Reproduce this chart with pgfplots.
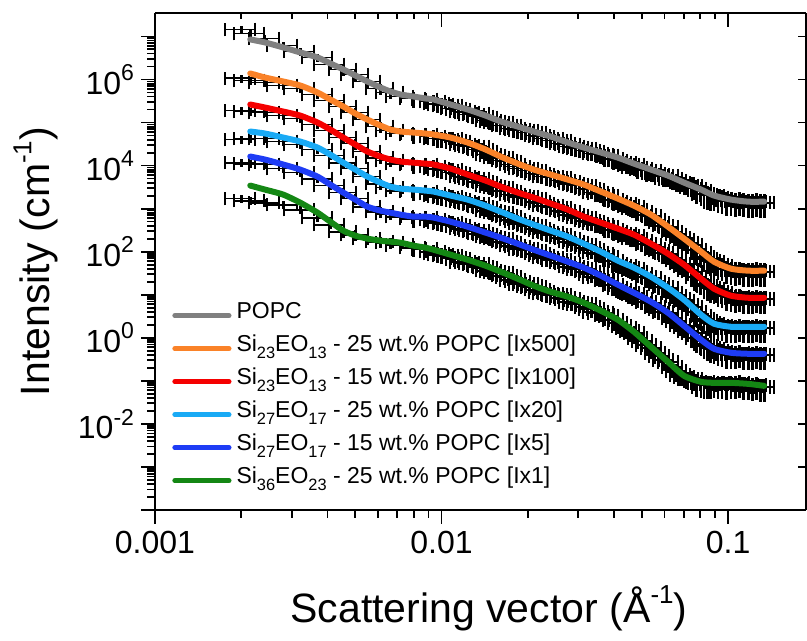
\documentclass[border=0pt]{standalone}
\usepackage{fontspec}
\setmainfont{Liberation Sans}
\usepackage{pgfplots}
\usepackage{pgfplotstable}
\pgfplotsset{compat=1.18}
\newcommand\sups[1]{\raisebox{0.42em}{\fontsize{11.5}{11.5}\selectfont #1}}
\newcommand\supl[1]{\raisebox{0.45em}{\fontsize{13}{13}\selectfont #1}}
\newcommand\subs[1]{\raisebox{-0.3em}{\fontsize{8.2}{8.2}\selectfont #1}}
\definecolor{cgray}{RGB}{128,128,128}
\definecolor{corange}{RGB}{250,130,40}
\definecolor{cred}{RGB}{245,0,0}
\definecolor{clblue}{RGB}{25,170,245}
\definecolor{cblue}{RGB}{30,60,245}
\definecolor{cgreen}{RGB}{20,135,20}

% measured data, first set
\pgfplotstableread{
q ex ey G O R L B N
0.00200 0.12 0.2 1.45e7 1.06e6 1.90e5 4.02e4 1.17e4 1.71e3
0.00215 0.12 0.2 1.17e7 9.48e5 1.80e5 4.24e4 1.11e4 1.53e3
0.00242 0.12 0.2 8.98e6 8.51e5 1.71e5 4.24e4 1.06e4 1.38e3
0.00280 0.12 0.2 6.18e6 7.25e5 1.45e5 3.62e4 8.51e3 1.24e3
0.00321 0.12 0.2 4.48e6 6.18e5 1.24e5 3.08e4 6.87e3 948
0.00369 0.12 0.2 3.25e6 4.48e5 8.98e4 2.36e4 4.98e3 618
0.00409 0.12 0.2 2.23e6 3.25e5 6.51e4 1.71e4 3.43e3 425
0.00454 0.11 0.3 1.71e6 2.36e5 4.48e4 1.17e4 2.36e3 292
0.00500 0.11 0.3 1.31e6 1.71e5 3.25e4 8.51e3 1.71e3 249
0.00551 0.11 0.3 8.98e5 1.17e5 2.12e4 5.55e3 1.11e3 201
0.00612 0.11 0.3 6.18e5 8.07e4 1.53e4 3.81e3 851 171
0.00663 0.11 0.3 4.98e5 6.51e4 1.31e4 3.08e3 765 162
0.00719 0.11 0.3 4.02e5 5.55e4 1.11e4 2.62e3 651 145
0.00798 0.10 0.4 3.62e5 5.26e4 1.06e4 2.49e3 585 124
0.00879 0.10 0.4 3.43e5 5.26e4 1.06e4 2.49e3 618 117
0.00938 0.10 0.4 3.08e5 4.72e4 9.48e3 2.23e3 555 100
0.0100 0.10 0.4 2.62e5 4.24e4 8.07e3 1.90e3 472 85.1
0.01075 0.10 0.4 2.49e5 4.24e4 8.07e3 1.90e3 472 80.7
0.01147 0.10 0.4 2.01e5 3.62e4 6.51e3 1.62e3 402 68.7
0.01233 0.10 0.4 1.71e5 2.92e4 5.26e3 1.38e3 325 55.5
0.01326 0.10 0.4 1.62e5 2.77e4 4.98e3 1.31e3 308 52.6
0.01425 0.10 0.4 1.31e5 2.12e4 4.02e3 1.06e3 249 42.5
0.01508 0.10 0.4 1.06e5 1.71e4 3.25e3 851 212 34.3
0.01608 0.10 0.4 1.00e5 1.53e4 3.08e3 807 201 32.5
0.01715 0.10 0.4 8.51e4 1.24e4 2.49e3 651 162 26.2
0.01844 0.10 0.4 6.87e4 9.48e3 2.01e3 498 131 20.1
0.01967 0.10 0.4 6.51e4 8.51e3 1.90e3 448 117 18.0
0.02098 0.10 0.4 5.85e4 7.65e3 1.71e3 402 106 15.3
0.02237 0.10 0.4 4.72e4 6.18e3 1.31e3 308 80.7 11.7
0.02405 0.10 0.4 4.24e4 5.55e3 1.17e3 277 72.5 10.6
0.02565 0.10 0.4 3.81e4 5.26e3 1.06e3 249 65.1 10.0
0.02758 0.10 0.4 3.08e4 4.24e3 851 201 52.6 8.07
0.02942 0.10 0.4 2.62e4 3.62e3 687 162 42.5 6.51
0.03137 0.10 0.4 2.49e4 3.43e3 618 145 40.2 6.18
0.03346 0.10 0.4 2.12e4 2.77e3 498 111 30.8 4.72
0.03597 0.10 0.4 1.80e4 2.23e3 425 89.8 24.9 3.81
0.03837 0.08 0.45 1.71e4 2.01e3 381 76.5 21.2 3.25
0.04125 0.08 0.45 1.31e4 1.45e3 292 52.6 14.5 2.23
0.04400 0.08 0.45 1.17e4 1.31e3 262 47.2 12.4 1.71
0.04693 0.08 0.45 1.06e4 1.11e3 236 40.2 10.6 1.31
0.05004 0.08 0.45 8.51e3 851 180 30.8 8.07 0.851
0.05381 0.08 0.45 7.65e3 687 145 24.9 6.51 0.585
0.05738 0.08 0.45 6.18e3 472 106 18.0 4.72 0.381
0.06169 0.08 0.45 5.85e3 381 89.8 14.5 3.81 0.277
0.06580 0.08 0.45 4.48e3 249 61.8 9.48 2.49 0.171
0.07020 0.08 0.45 3.81e3 190 47.2 7.25 1.80 0.124
0.07483 0.08 0.55 3.43e3 145 34.3 5.26 1.31 0.111
0.08048 0.08 0.55 2.62e3 94.8 22.3 3.25 0.851 0.0898
0.08448 0.08 0.55 2.12e3 68.7 16.2 2.49 0.651 0.0851
0.08935 0.08 0.55 2.01e3 58.5 13.8 2.12 0.555 0.0898
0.09528 0.08 0.55 1.71e3 47.2 11.1 1.90 0.472 0.0851
0.1024 0.08 0.55 1.53e3 38.1 8.98 1.71 0.424 0.0851
0.1093 0.08 0.55 1.53e3 38.1 8.98 1.80 0.448 0.0898
0.1175 0.08 0.55 1.38e3 34.3 8.07 1.71 0.402 0.0807
0.1253 0.08 0.55 1.45e3 36.2 8.51 1.80 0.424 0.0807
0.1336 0.08 0.55 1.38e3 34.3 8.07 1.71 0.402 0.0725
}\datatab

% measured data, second (interleaved) set
\pgfplotstableread{
q ex ey G O R L B N
0.009683 0.10 0.4 2.77e5 4.24e4 8.51e3 2.01e3 498 89.8
0.01037 0.10 0.4 2.49e5 4.02e4 7.65e3 1.80e3 448 80.7
0.01110 0.10 0.4 2.12e5 3.81e4 6.87e3 1.71e3 425 72.5
0.01189 0.10 0.4 1.80e5 3.08e4 5.55e3 1.45e3 343 58.5
0.01278 0.10 0.4 1.53e5 2.77e4 4.98e3 1.31e3 308 52.6
0.01375 0.10 0.4 1.38e5 2.36e4 4.24e3 1.11e3 262 44.8
0.01466 0.10 0.4 1.11e5 1.80e4 3.43e3 898 223 36.2
0.01557 0.10 0.4 1.00e5 1.53e4 3.08e3 807 201 32.5
0.01661 0.10 0.4 8.51e4 1.31e4 2.62e3 687 171 27.7
0.01778 0.10 0.4 7.25e4 1.06e4 2.12e3 555 138 22.3
0.01904 0.10 0.4 6.51e4 8.51e3 1.90e3 448 117 18.0
0.02031 0.10 0.4 5.85e4 7.65e3 1.71e3 402 106 16.2
0.02166 0.10 0.4 4.98e4 6.51e3 1.45e3 343 89.8 13.1
0.02320 0.10 0.4 4.24e4 5.55e3 1.17e3 277 72.5 10.6
0.02484 0.10 0.4 3.81e4 5.26e3 1.06e3 249 65.1 10.0
0.02660 0.10 0.4 3.25e4 4.48e3 898 212 55.5 8.51
0.02848 0.10 0.4 2.77e4 3.81e3 725 171 44.8 6.87
0.03038 0.10 0.4 2.49e4 3.43e3 618 145 40.2 6.18
0.03239 0.10 0.4 2.23e4 2.92e3 526 124 34.3 5.26
0.03470 0.10 0.4 1.90e4 2.36e3 448 94.8 26.2 4.02
0.03716 0.08 0.45 1.71e4 2.01e3 381 80.7 22.3 3.43
0.03978 0.08 0.45 1.45e4 1.62e3 325 61.8 17.1 2.62
0.04260 0.08 0.45 1.17e4 1.31e3 262 47.2 13.1 1.90
0.04543 0.08 0.45 1.06e4 1.17e3 236 42.5 11.1 1.45
0.04844 0.08 0.45 8.98e3 948 201 34.3 8.98 1.00
0.05188 0.08 0.45 7.65e3 725 153 26.2 6.87 0.687
0.05556 0.08 0.45 6.51e3 555 117 20.1 5.26 0.448
0.05949 0.08 0.45 5.85e3 402 94.8 15.3 4.02 0.308
0.06370 0.08 0.45 4.98e3 292 72.5 11.1 2.92 0.212
0.06795 0.08 0.45 4.02e3 212 52.6 8.07 2.01 0.138
0.07246 0.08 0.45 3.43e3 162 38.1 5.85 1.45 0.111
0.07760 0.08 0.55 2.92e3 111 26.2 4.02 1.00 0.0948
0.08242 0.08 0.55 2.23e3 76.5 18.0 2.77 0.725 0.0851
0.08685 0.08 0.55 2.01e3 61.8 14.5 2.23 0.585 0.0851
0.09226 0.08 0.55 1.80e3 49.8 11.7 1.90 0.498 0.0851
0.09880 0.08 0.55 1.53e3 40.2 9.48 1.71 0.424 0.0807
0.1058 0.08 0.55 1.45e3 36.2 8.51 1.71 0.424 0.0851
0.1133 0.08 0.55 1.45e3 34.3 8.07 1.71 0.402 0.0807
0.1213 0.08 0.55 1.38e3 34.3 8.07 1.71 0.402 0.0765
0.1294 0.08 0.55 1.38e3 34.3 8.07 1.71 0.402 0.0725
}\datatabb

% fitted model curves
\pgfplotstableread{
q G O R L B N
0.00215 8.51e6 1.38e6 2.62e5 6.18e4 1.62e4 3.43e3
0.00242 7.25e6 1.11e6 2.23e5 5.55e4 1.38e4 2.77e3
0.00280 5.55e6 8.98e5 1.80e5 4.48e4 1.06e4 2.12e3
0.00321 4.25e6 7.25e5 1.45e5 3.62e4 8.07e3 1.38e3
0.00369 3.25e6 4.98e5 1.00e5 2.62e4 5.55e3 807
0.00409 2.36e6 3.43e5 6.87e4 1.80e4 3.62e3 498
0.00454 1.71e6 2.36e5 4.48e4 1.17e4 2.36e3 308
0.00500 1.24e6 1.62e5 3.08e4 8.07e3 1.62e3 236
0.00551 8.98e5 1.17e5 2.12e4 5.55e3 1.11e3 201
0.00612 6.51e5 8.51e4 1.62e4 4.02e3 898 180
0.00663 5.26e5 6.87e4 1.38e4 3.25e3 807 171
0.00719 4.48e5 6.18e4 1.24e4 2.92e3 725 162
0.00798 4.02e5 5.85e4 1.17e4 2.77e3 651 138
0.00879 3.62e5 5.55e4 1.11e4 2.62e3 651 124
0.00938 3.43e5 5.26e4 1.06e4 2.49e3 618 111
0.01075 2.62e5 4.48e4 8.51e3 2.01e3 498 85.1
0.01233 2.01e5 3.43e4 6.18e3 1.62e3 381 65.1
0.01425 1.45e5 2.36e4 4.48e3 1.17e3 277 47.2
0.01608 1.06e5 1.62e4 3.25e3 851 212 34.3
0.01844 8.07e4 1.11e4 2.36e3 585 153 23.6
0.02098 6.18e4 8.07e3 1.80e3 425 111 16.2
0.02405 4.72e4 6.18e3 1.31e3 308 80.7 11.7
0.02758 3.43e4 4.72e3 948 223 58.5 8.98
0.03137 2.62e4 3.62e3 651 153 42.5 6.51
0.03597 2.01e4 2.49e3 472 100 27.7 4.24
0.04125 1.53e4 1.71e3 343 61.8 17.1 2.62
0.04693 1.11e4 1.17e3 249 42.5 11.1 1.38
0.05381 8.07e3 725 153 26.2 6.87 0.618
0.06169 5.85e3 381 89.8 14.5 3.81 0.277
0.07020 4.02e3 201 49.8 7.65 1.90 0.131
0.08048 2.77e3 100 23.6 3.43 0.898 0.0948
0.08935 2.01e3 58.5 13.8 2.12 0.555 0.0898
0.1024 1.62e3 40.2 9.48 1.80 0.448 0.0898
0.1175 1.45e3 36.2 8.51 1.80 0.425 0.0851
0.1336 1.45e3 36.2 8.51 1.80 0.425 0.0765
}\fittab

\pgfplotsset{
  every axis/.append style={
    scale only axis, width=325.5pt, height=248.5pt,
    xmode=log, ymode=log,
    xmin=0.001, xmax=0.187, ymin=1e-4, ymax=3.5e7,
    axis line style={line width=1pt, black},
    every tick/.style={black, line width=0.9pt},
  },
}

\begin{document}
\begin{tikzpicture}
\begin{axis}[
  axis x line*=bottom, axis y line*=left, tick align=outside,
  major tick length=7pt, minor tick length=4pt,
  xtick={0.001,0.01,0.1}, xticklabels={0.001,0.01,0.1},
  ytick={1e-4,1e-3,1e-2,1e-1,1,10,100,1e3,1e4,1e5,1e6,1e7},
  yticklabels={,,10\sups{-2},,10\sups{0},,10\sups{2},,10\sups{4},,10\sups{6},},
  tick label style={font=\fontsize{16}{18}\selectfont},
  xlabel={Scattering vector (Å\supl{-1})},
  ylabel={Intensity (cm\supl{-1})},
  every axis x label/.style={at={(axis description cs:0.513,-0.2254)}, anchor=base, font=\fontsize{20.5}{24}\selectfont},
  every axis y label/.style={at={(axis description cs:-0.1828,0.5)}, rotate=90, anchor=center, font=\fontsize{20.5}{24}\selectfont},
  legend style={at={(axis description cs:0.026,0.425)}, anchor=north west, draw=none, fill=none,
    inner sep=0pt, row sep=0pt, font=\fontsize{11.5}{13}\selectfont,
    nodes={inner xsep=2.5pt, inner ysep=0pt, text height=9.5pt, text depth=7pt}},
  legend cell align=left,
  legend image code/.code={\draw[#1, line width=2.6pt, line cap=round] (0pt,0pt) -- (27pt,0pt);},
]
\coordinate (O) at (rel axis cs:0,0);
% measured points: horizontal resolution bars (with end caps) and vertical error bars
\pgfplotsinvokeforeach{G,O,R,L,B,N}{
\addplot[forget plot, draw=none, mark=none,
  error bars/.cd, x dir=both, x explicit relative,
  error bar style={draw=black, line width=0.9pt},
  error mark options={rotate=90, draw=black, mark size=3.4pt, line width=1pt}]
  table[x=q, y=#1, x error=ex] {\datatab};
\addplot[forget plot, draw=none, mark=none,
  error bars/.cd, x dir=both, x explicit relative,
  error bar style={draw=black, line width=0.9pt},
  error mark options={rotate=90, draw=black, mark size=3.4pt, line width=1pt}]
  table[x=q, y=#1, x error=ex] {\datatabb};
\addplot[forget plot, draw=none, mark=none,
  error bars/.cd, y dir=both, y explicit relative, error mark=none,
  error bar style={draw=black, line width=1.4pt}]
  table[x=q, y=#1, y error=ey] {\datatab};
\addplot[forget plot, draw=none, mark=none,
  error bars/.cd, y dir=both, y explicit relative, error mark=none,
  error bar style={draw=black, line width=1.4pt}]
  table[x=q, y=#1, y error=ey] {\datatabb};
}

\addplot[cgray, line width=3pt, smooth, tension=0.4, mark=none, line cap=round] table[x=q, y=G] {\fittab};
\addlegendentry{POPC}
\addplot[corange, line width=3pt, smooth, tension=0.4, mark=none, line cap=round] table[x=q, y=O] {\fittab};
\addlegendentry{Si\subs{23}EO\subs{13} - 25 wt.\% POPC [Ix500]}
\addplot[cred, line width=3pt, smooth, tension=0.4, mark=none, line cap=round] table[x=q, y=R] {\fittab};
\addlegendentry{Si\subs{23}EO\subs{13} - 15 wt.\% POPC [Ix100]}
\addplot[clblue, line width=3pt, smooth, tension=0.4, mark=none, line cap=round] table[x=q, y=L] {\fittab};
\addlegendentry{Si\subs{27}EO\subs{17} - 25 wt.\% POPC [Ix20]}
\addplot[cblue, line width=3pt, smooth, tension=0.4, mark=none, line cap=round] table[x=q, y=B] {\fittab};
\addlegendentry{Si\subs{27}EO\subs{17} - 15 wt.\% POPC [Ix5]}
\addplot[cgreen, line width=3pt, smooth, tension=0.4, mark=none, line cap=round] table[x=q, y=N] {\fittab};
\addlegendentry{Si\subs{36}EO\subs{23} - 25 wt.\% POPC [Ix1]}
\end{axis}

\begin{axis}[
  axis x line*=top, hide y axis, tick align=inside,
  major tick length=7pt, minor tick length=3pt,
  xtick={0.001,0.01,0.1}, xticklabels={},
]
\end{axis}
\begin{axis}[
  axis y line*=right, hide x axis, tick align=inside,
  major tick length=4pt,
  ytick={1e-4,1e-3,1e-2,1e-1,1,10,100,1e3,1e4,1e5,1e6,1e7}, yticklabels={},
  yminorticks=false,
]
\end{axis}
\pgfresetboundingbox
\path (O) ++(-77.5pt,-65.5pt) rectangle ++(403.5pt,320.5pt);
\end{tikzpicture}
\end{document}
